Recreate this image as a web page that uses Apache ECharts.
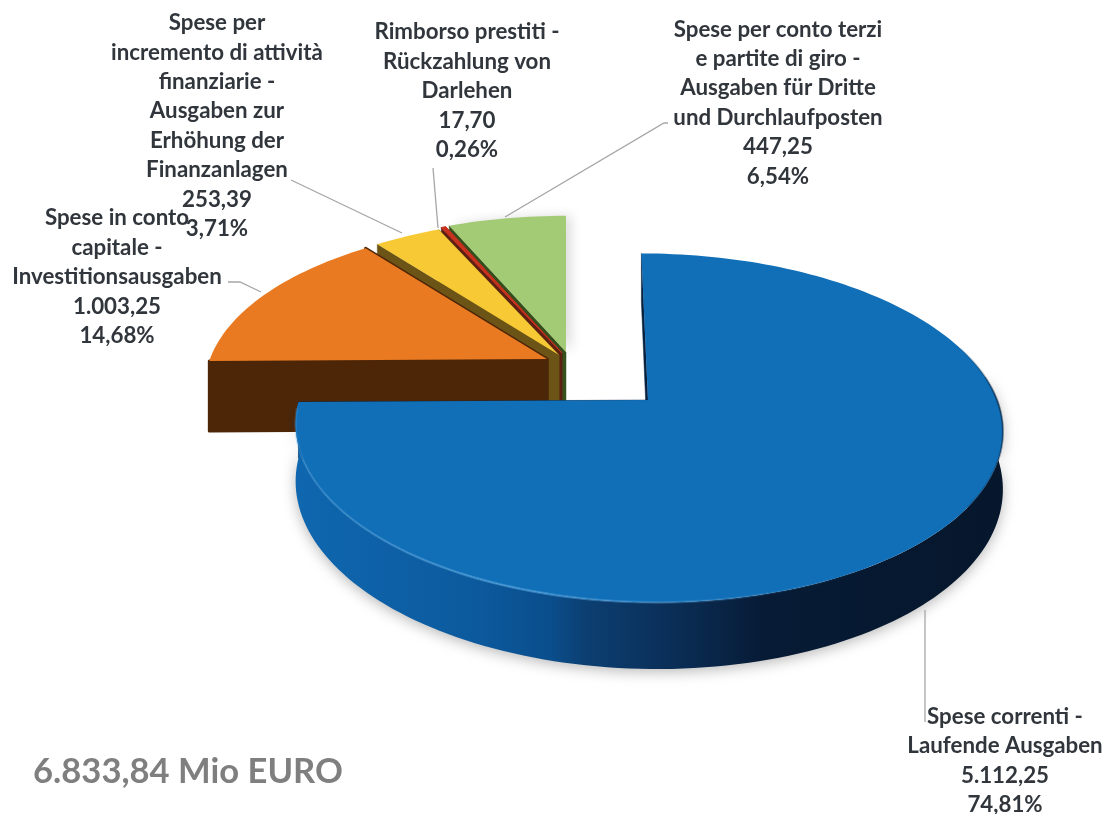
<!DOCTYPE html>
<html><head><meta charset="utf-8">
<style>html,body{margin:0;padding:0;background:#fff}#c{width:1106px;height:814px}</style>
<script src="https://cdn.jsdelivr.net/npm/echarts@6/dist/echarts.min.js"></script>
</head><body><div id="c"></div>
<script>
// ---- data ----
const categories = [
  "Spese correnti -\nLaufende Ausgaben",
  "Spese in conto\ncapitale -\nInvestitionsausgaben",
  "Spese per\nincremento di attività\nfinanziarie -\nAusgaben zur\nErhöhung der\nFinanzanlagen",
  "Rimborso prestiti -\nRückzahlung von\nDarlehen",
  "Spese per conto terzi\ne partite di giro -\nAusgaben für Dritte\nund Durchlaufposten"
];
const values = [5112.25, 1003.25, 253.39, 17.70, 447.25];
const totalLabel = "6.833,84 Mio EURO";

// ---- layout and style ----
const k = 0.16;
const sliceGeom = [
  {vx:600, ax:648, ay:400, R:349, cy:170, h:56},
  {vx:566, ax:547, ay:359, R:337, cy:158, h:70},
  {vx:566, ax:559, ay:355, R:335, cy:158, h:70},
  {vx:566, ax:562, ay:353, R:335, cy:158, h:70},
  {vx:566, ax:566, ay:352, R:335, cy:158, h:70}
];
const topColors  = ['#116fb7','#e97a21','#f6c935','#c8321e','#a3cb75'];
const faceColors = ['#06203f','#4d2608','#6b5416','#5d2012','#37501c'];
const labelPos = [[1005,761],[117,277],[217,126],[467,91],[778,103]];
const leaders = [
  [[925,610],[925,722]],
  [[228,282],[240,282],[261,292]],
  [[291,180],[402,233]],
  [[433,168],[438,228]],
  [[668,123],[664,123],[505,217]]
];

const total = values.reduce((a,b)=>a+b,0);
function fmt(v){
  const p = v.toFixed(2).split('.');
  return p[0].replace(/\B(?=(\d{3})+(?!\d))/g,'.') + ',' + p[1];
}
function proj(g, deg, drop){
  const t = deg*Math.PI/180, c = Math.cos(t), sn = Math.sin(t);
  const s = 1/(1+k*c);
  return [g.vx+(g.ax-g.vx+g.R*sn)*s, g.ay-g.cy*c*s+(drop?g.h*s:0)];
}
function arc(g, a, b, drop){
  const n = Math.max(2, Math.ceil(Math.abs(b-a)/1.5)), out=[];
  for(let i=0;i<=n;i++) out.push(proj(g, a+(b-a)*i/n, drop));
  return out;
}
function renderItem(params, api){
  const i = params.dataIndex, v = api.value(0), g = sliceGeom[i];
  let acc = 0; for(let j=0;j<i;j++) acc += values[j];
  const a0 = acc/total*360, a1 = (acc+v)/total*360;
  const apex = [g.ax,g.ay], apexD = [g.ax,g.ay+g.h];
  const base = (values.length-i)*10;
  const children = [];
  // cut faces
  [a0,a1].forEach(a=>{
    if(a>359.9) return;
    children.push({type:'polygon', z2:base,
      shape:{points:[apex,proj(g,a,false),proj(g,a,true),apexD]},
      style:{fill:faceColors[i], stroke:faceColors[i], lineWidth:i===1?3:0.5, lineJoin:'round'}});
  });
  // outer wall of the large slice, front half
  if(i===0){
    const wa = 82, wb = a1;
    children.push({type:'polygon', z2:base+1,
      shape:{points:arc(g,wa,wb,false).concat(arc(g,wb,wa,true))},
      style:{
        fill:new echarts.graphic.LinearGradient(0,0,1,0,[
          {offset:0,color:'#0f67af'},{offset:.25,color:'#0c5a9e'},{offset:.36,color:'#0a4e8c'},
          {offset:.41,color:'#0c3f72'},{offset:.54,color:'#0a2d55'},{offset:.66,color:'#071b36'},
          {offset:1,color:'#06172c'}]),
        shadowBlur:14, shadowColor:'rgba(0,0,0,.28)', shadowOffsetY:3
      }});
  }
  // top face
  const topStyle = {fill:topColors[i]};
  if(i===3){ topStyle.stroke = topColors[i]; topStyle.lineWidth = 1; }
  if(i===4){ topStyle.shadowBlur = 12; topStyle.shadowColor = 'rgba(0,0,0,.14)'; topStyle.shadowOffsetX = 5; }
  children.push({type:'polygon', z2:base+2,
    shape:{points:[apex].concat(arc(g,a0,a1,false))},
    style:topStyle});
  // rim light and rim shade of the large slice
  if(i===0){
    children.push({type:'polyline', z2:base+3,
      shape:{points:arc(g,a1-2,150,false)},
      style:{fill:null, lineWidth:2.5,
        stroke:new echarts.graphic.LinearGradient(0,0,1,0,[
          {offset:0,color:'rgba(80,160,220,.25)'},{offset:.4,color:'rgba(80,160,220,.65)'},
          {offset:1,color:'rgba(80,160,220,0)'}])}});
    children.push({type:'polyline', z2:base+3,
      shape:{points:arc(g,70,125,false)},
      style:{fill:null, lineWidth:2,
        stroke:new echarts.graphic.LinearGradient(0,0,0,1,[
          {offset:0,color:'rgba(6,30,60,0)'},{offset:.35,color:'rgba(6,30,60,.6)'},
          {offset:1,color:'rgba(6,30,60,.2)'}])}});
  }
  // leader
  children.push({type:'polyline', z2:200,
    shape:{points:leaders[i]},
    style:{fill:null, stroke:'#a6a6a6', lineWidth:1.3}});
  // label
  children.push({type:'text', z2:210,
    style:{
      x:labelPos[i][0], y:labelPos[i][1],
      text:categories[i]+'\n'+fmt(v)+'\n'+fmt(v/total*100)+'%',
      fill:'#30363c', fontFamily:'Lato', fontWeight:'bold', fontSize:22.3,
      lineHeight:29.4, align:'center', verticalAlign:'middle'
    }});
  return {type:'group', children};
}

const chart = echarts.init(document.getElementById('c'), null, {renderer:'canvas'});
chart.setOption({
  animation:false,
  backgroundColor:'#fff',
  title:{text:totalLabel, left:28, top:749,
    textStyle:{color:'#7f7f7f', fontFamily:'Lato', fontWeight:'bold', fontSize:34.6}},
  series:[{
    type:'custom', coordinateSystem:'none', clip:false, silent:true,
    renderItem,
    data:categories.map((n,i)=>({name:n, value:values[i]}))
  }]
});
</script></body></html>
